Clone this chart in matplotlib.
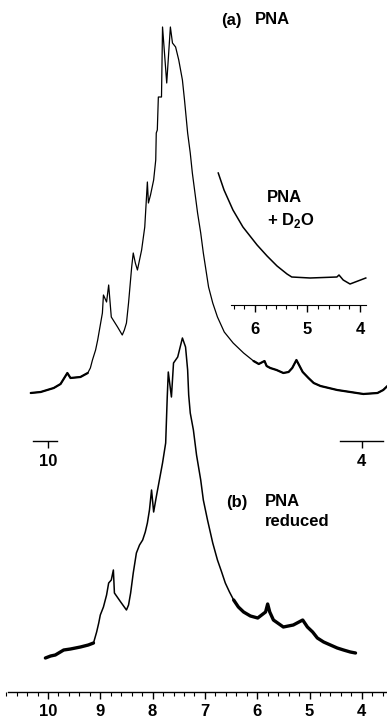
import numpy as np
import matplotlib
matplotlib.use("Agg")
import matplotlib.pyplot as plt
from matplotlib.ticker import MultipleLocator

plt.rcParams["font.family"] = ["Liberation Sans", "DejaVu Sans"]
plt.rcParams["font.weight"] = "bold"
plt.rcParams["mathtext.fontset"] = "custom"
plt.rcParams["mathtext.rm"] = "Liberation Sans:bold"
plt.rcParams["mathtext.bf"] = "Liberation Sans:bold"

# (a) PNA : chemical shift (ppm) and intensity (arb.)
ppm_a = [10.33, 10.14, 9.89, 9.76, 9.63, 9.57, 9.38, 9.24, 9.19, 9.15, 9.09, 9.05,
         9.00, 8.96, 8.94, 8.88, 8.84, 8.79, 8.67, 8.58, 8.54, 8.50, 8.46, 8.40,
         8.37, 8.33, 8.29, 8.21, 8.15, 8.12, 8.10, 8.08, 8.04, 7.98, 7.94, 7.93,
         7.91, 7.89, 7.83, 7.81, 7.73, 7.66, 7.62, 7.56, 7.50, 7.43, 7.39, 7.33,
         7.28, 7.24, 7.19, 7.14, 7.08, 7.03, 6.93, 6.85, 6.76, 6.63, 6.46, 6.26,
         6.07, 5.97, 5.86, 5.82, 5.75, 5.63, 5.50, 5.40, 5.33, 5.25, 5.19, 5.13,
         5.02, 4.92, 4.79, 4.47, 4.22, 3.97, 3.70, 3.59, 3.51]
int_a = [-1, 0, 4, 8, 19, 14, 15, 19, 24, 32, 42, 52,
         67, 79, 97, 90, 107, 75, 65, 57, 62, 69, 89, 125,
         139, 129, 122, 142, 165, 192, 210, 189, 197, 212, 232, 259,
         262, 295, 295, 365, 309, 365, 349, 345, 332, 312, 292, 259,
         239, 219, 199, 179, 159, 139, 105, 89, 75, 60, 49, 39,
         31, 28, 31, 26, 24, 22, 19, 20, 24, 32, 26, 20,
         14, 9, 6, 2, 0, -2, -1, 2, 6]

# (b) PNA reduced
ppm_b = [10.05, 9.95, 9.86, 9.70, 9.57, 9.38, 9.23, 9.13, 9.07, 9.03, 9.00, 8.94,
         8.88, 8.84, 8.79, 8.75, 8.73, 8.61, 8.50, 8.46, 8.42, 8.37, 8.31, 8.25,
         8.19, 8.14, 8.10, 8.06, 8.02, 7.98, 7.93, 7.87, 7.81, 7.75, 7.72, 7.70,
         7.64, 7.60, 7.52, 7.43, 7.37, 7.33, 7.31, 7.28, 7.22, 7.16, 7.08, 7.03,
         6.95, 6.85, 6.76, 6.68, 6.61, 6.53, 6.45, 6.36, 6.26, 6.13, 5.99, 5.84,
         5.80, 5.76, 5.69, 5.50, 5.31, 5.13, 5.04, 4.94, 4.85, 4.73, 4.60, 4.47,
         4.35, 4.22, 4.12]
int_b = [2, 4, 5, 10, 11, 13, 15, 17, 28, 37, 45, 53,
         65, 77, 80, 90, 67, 58, 50, 55, 67, 87, 107, 115,
         120, 128, 137, 150, 170, 148, 163, 180, 197, 217, 263, 288,
         263, 297, 303, 322, 313, 290, 265, 247, 230, 205, 180, 160,
         140, 117, 100, 88, 77, 68, 60, 53, 48, 44, 42, 48,
         56, 48, 40, 33, 35, 40, 33, 28, 22, 18, 15, 12,
         10, 8, 7]

# inset: PNA + D2O
ppm_d2o = [6.70, 6.59, 6.42, 6.23, 5.96, 5.77, 5.58, 5.39, 5.30, 4.95, 4.44, 4.40,
           4.32, 4.19, 4.04, 3.89]
int_d2o = [105, 88, 68, 51, 33, 22, 12, 4, 1, 0, 1, 3,
           -2, -6, -3, 0]

main_ticks = [10, 9, 8, 7, 6, 5, 4]
inset_ticks = [6, 5, 4]

W, H = 387, 720
PX = 52.3


def ppm_at(x):
    return 10 - (x - 48) / PX


def ppm_inset(x):
    return 4 + (360 - x) / 52.5


def strip(a):
    for s in ("left", "right", "top"):
        a.spines[s].set_visible(False)
    a.set_yticks([])
    a.patch.set_visible(False)


def scale_bar(fig, x0, x1, tick):
    a = fig.add_axes([x0 / W, (H - 441) / H, (x1 - x0) / W, 0.001])
    a.set_xlim(ppm_at(x0), ppm_at(x1))
    strip(a)
    a.spines["bottom"].set_linewidth(1.0)
    a.set_xticks([tick], labels=[str(tick)])
    a.tick_params(axis="x", length=5, width=1, pad=4, labelsize=12)
    return a


def spectrum(ax, ppm, inten, offset, lw, lw_noise, noisy_hi, noisy_lo):
    ppm = np.asarray(ppm)
    y = np.asarray(inten, dtype=float) + offset
    ax.plot(ppm, y, color="black", lw=lw)
    # flat, noisy stretches of the trace look heavier in the scan
    noisy = (ppm >= noisy_hi) | (ppm <= noisy_lo)
    ax.plot(ppm, np.where(noisy, y, np.nan), color="black", lw=lw_noise,
            solid_capstyle="round")


def main():
    fig = plt.figure(figsize=(W / 100, H / 100), dpi=100)

    ax = fig.add_axes([0, 0, 1, 1])
    ax.set_xlim(ppm_at(0), ppm_at(W))
    ax.set_ylim(0, H)
    strip(ax)

    spectrum(ax, ppm_a, int_a, 328, 0.9, 1.6, 9.2, 6.1)
    spectrum(ax, ppm_b, int_b, 60, 1.1, 2.4, 9.1, 6.5)

    ax.spines["bottom"].set_position(("data", H - 692))
    ax.spines["bottom"].set_bounds(ppm_at(8), ppm_at(W))
    ax.spines["bottom"].set_linewidth(1.0)
    ax.set_xticks(main_ticks, labels=[str(t) for t in main_ticks])
    ax.xaxis.set_minor_locator(MultipleLocator(0.2))
    ax.tick_params(axis="x", which="major", direction="out", length=5, width=1,
                   pad=4, labelsize=12)
    ax.tick_params(axis="x", which="minor", direction="out", length=3, width=0.8)

    # inset with the D2O exchanged spectrum
    ax_in = fig.add_axes([231 / W, (H - 305) / H, (366 - 231) / W, 140 / H])
    ax_in.set_xlim(ppm_inset(231), ppm_inset(366))
    ax_in.set_ylim(-27, 113)
    strip(ax_in)
    ax_in.plot(ppm_d2o, int_d2o, color="black", lw=1.1, clip_on=False)
    ax_in.set_xticks(inset_ticks, labels=[str(t) for t in inset_ticks])
    ax_in.xaxis.set_minor_locator(MultipleLocator(0.2))
    ax_in.tick_params(axis="x", which="major", direction="out", length=5, width=1,
                      pad=7, labelsize=12)
    ax_in.tick_params(axis="x", which="minor", direction="out", length=3, width=0.8)

    scale_bar(fig, 33, 57, 10)
    scale_bar(fig, 340, 383, 4)

    fs = 12
    fig.text(221 / W, 1 - 20 / H, "(a)", fontsize=fs, va="center", ha="left")
    fig.text(255 / W, 1 - 20 / H, "PNA", fontsize=fs, va="center", ha="left")
    fig.text(267 / W, 1 - 198 / H, "PNA", fontsize=fs, va="center", ha="left")
    fig.text(267 / W, 1 - 220 / H, r"+ D$_{2}$O", fontsize=fs, va="center", ha="left")
    fig.text(226 / W, 1 - 502 / H, "(b)", fontsize=fs, va="center", ha="left")
    fig.text(265 / W, 1 - 502 / H, "PNA", fontsize=fs, va="center", ha="left")
    fig.text(265 / W, 1 - 521 / H, "reduced", fontsize=fs, va="center", ha="left")

    fig.savefig("out.png", dpi=100)


if __name__ == "__main__":
    main()
